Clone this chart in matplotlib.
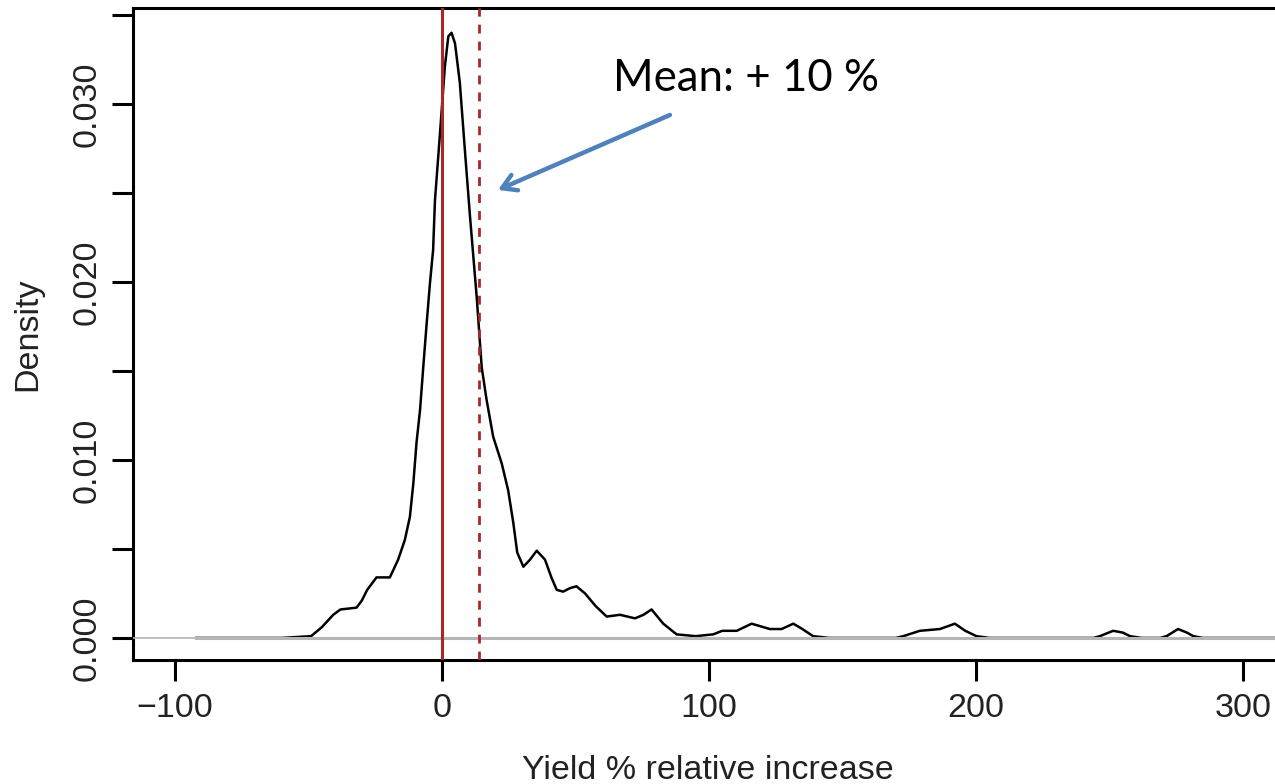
import matplotlib
matplotlib.use("Agg")
import matplotlib.pyplot as plt

# density curve (yield % increase vs density)
yield_pct = [-92, -60, -49, -45, -40.7, -38, -32, -30, -28, -24.5, -19.5, -16.4,
             -13.9, -12, -10.7, -9.5, -8.2, -7, -5.7, -4.5, -3.3, -2.6, -0.7, 1.1,
             2.4, 3.6, 4.9, 6.7, 8.6, 10.5, 13, 14.9, 16.7, 19.2, 22.4, 24.8, 26.7,
             28.2, 30.5, 33, 35.5, 38.6, 41, 43, 45.4, 48, 50.4, 53.6, 57.5, 61.7,
             66.7, 72.3, 75.5, 78.5, 82.9, 87.9, 95, 101.6, 105, 110.4, 116, 122.8,
             127.2, 131.6, 135, 139, 145, 170, 172.8, 179, 186.5, 192.1, 196, 200.2,
             205, 244, 246.4, 251.4, 255, 257.7, 262, 269, 271.4, 275.7, 279, 281.4,
             285, 320]
density = [0, 0, 0.0001, 0.0006, 0.0013, 0.0016, 0.0017, 0.0021, 0.0027, 0.0034,
           0.0034, 0.0044, 0.0055, 0.0068, 0.0087, 0.0110, 0.0128, 0.0152, 0.0177,
           0.0199, 0.0218, 0.0246, 0.0284, 0.0321, 0.0338, 0.0340, 0.0334, 0.0312,
           0.0274, 0.0237, 0.0192, 0.0152, 0.0134, 0.0113, 0.0098, 0.0083, 0.0065,
           0.0048, 0.0040, 0.0044, 0.0049, 0.0044, 0.0034, 0.0027, 0.0026, 0.0028,
           0.0029, 0.0025, 0.0018, 0.0012, 0.0013, 0.0011, 0.0013, 0.0016, 0.0008,
           0.0002, 0.0001, 0.0002, 0.0004, 0.0004, 0.0008, 0.0005, 0.0005, 0.0008,
           0.0005, 0.0001, 0, 0, 0.0001, 0.0004, 0.0005, 0.0008, 0.0004, 0.0001,
           0, 0, 0.0001, 0.0004, 0.0003, 0.0001, 0, 0, 0.0001, 0.0005, 0.0003,
           0.0001, 0, 0]

zero_ref = 0
mean_ref = 14
x_ticks = [-100, 0, 100, 200, 300]
y_ticks = [0.0, 0.005, 0.010, 0.015, 0.020, 0.025, 0.030, 0.035]
y_labels = ["0.000", "", "0.010", "", "0.020", "", "0.030", ""]
note = "Mean: + 10 %"

red = "#aa2628"
blue = "#4f81bd"

fig = plt.figure(figsize=(12.75, 7.84), dpi=100)
ax = fig.add_axes([133 / 1275, 124 / 784, 1150 / 1275, 652 / 784])

ax.plot(yield_pct, density, color="black", lw=1.8, zorder=3)
# zero line, drawn over the curve as in the original
ax.axhline(0, color="#b5b5b5", lw=1.2, zorder=4)
ax.plot([yield_pct[0], yield_pct[-1]], [0, 0], color="#b5b5b5", lw=2.2, zorder=4)

ax.axvline(zero_ref, color=red, lw=2.2, zorder=5)
ax.axvline(mean_ref, color=red, lw=2.0, ls=(0, (3.2, 2.9)), zorder=5)

ax.set_xlim(-115.7, 315)
ax.set_ylim(-0.00124, 0.03539)
ax.set_xticks(x_ticks)
ax.set_yticks(y_ticks)
ax.set_yticklabels(y_labels, rotation=90, va="center")

for s in ax.spines.values():
    s.set_linewidth(2.2)
ax.tick_params(length=15, width=2.2, labelsize=24.5, labelcolor="#222222")
ax.tick_params(axis="y", pad=7)
ax.tick_params(axis="x", pad=9)
for lab in ax.get_xticklabels() + ax.get_yticklabels():
    lab.set_fontfamily("Liberation Sans")

ax.set_xlabel("Yield % relative increase", fontsize=24.5, family="Liberation Sans",
              color="#222222", labelpad=22)
ax.set_ylabel("Density", fontsize=24.5, family="Liberation Sans",
              color="#222222", labelpad=20)

ax.annotate("", xy=(21, 0.02517), xytext=(85.4, 0.02938),
            arrowprops=dict(arrowstyle="->,head_length=1.0,head_width=0.6",
                            color=blue, lw=3.2, shrinkA=0, shrinkB=0), zorder=6)
ax.text(64, 0.0307, note, fontsize=31.5, family="Lato", color="black",
        ha="left", va="baseline", zorder=6)

fig.savefig("out.png", dpi=100)
